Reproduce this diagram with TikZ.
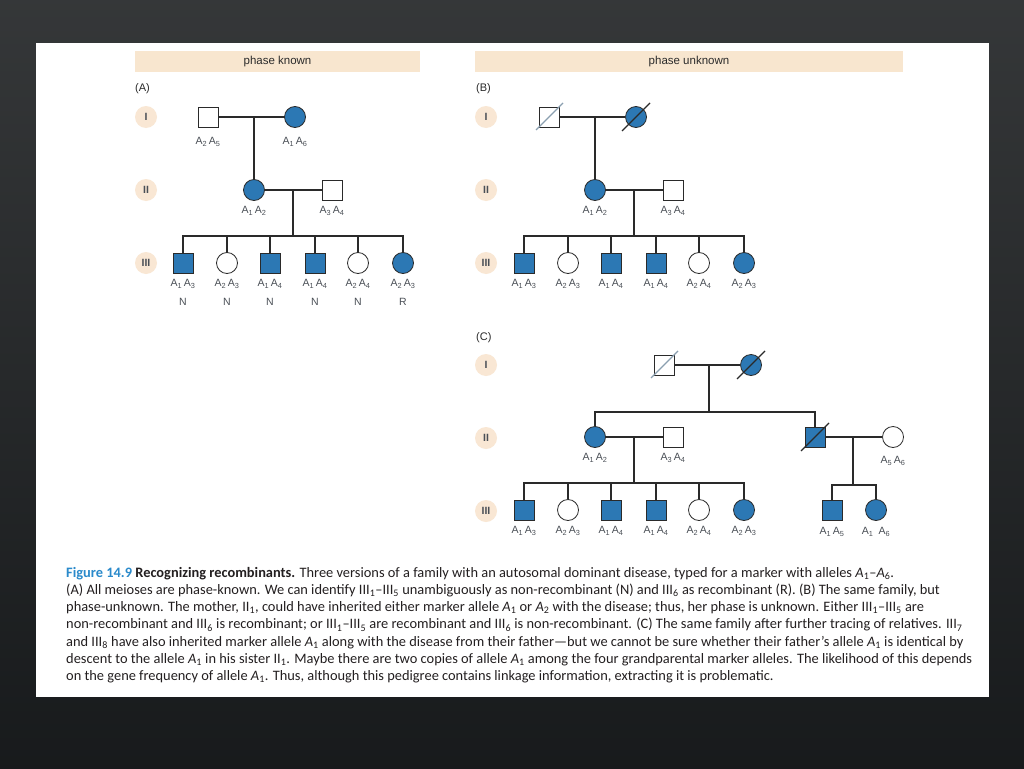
\documentclass[tikz,border=0pt]{standalone}
\usepackage{fontspec}
\setmainfont{Carlito}
\newfontfamily\pedfont{Liberation Sans}
\usetikzlibrary{positioning}
\usepackage{xcolor}
\definecolor{pgBack}{HTML}{1C1F21}
\definecolor{pgBar}{HTML}{F8E6CF}
\definecolor{pgBadge}{HTML}{F9E7D4}
\definecolor{pgBlue}{HTML}{2C78B4}
\definecolor{pgLine}{HTML}{2A2A2A}
\definecolor{pgText}{HTML}{4A4F56}
\definecolor{pgSlash}{HTML}{8A9FB0}
\definecolor{pgCapBlue}{HTML}{2A8ACB}
\definecolor{pgCapText}{HTML}{231F20}
\newcommand{\alls}[2]{A\textsubscript{#1}\,A\textsubscript{#2}}
\newcommand{\Ai}[1]{\textit{A}\textsubscript{#1}}
\newcommand{\gn}[2]{#1\textsubscript{#2}}
\tikzset{
    % pedigree symbols
    sym/.style={draw=pgLine,line width=0.8pt,inner sep=0pt},
    male/.style={sym,rectangle,minimum size=20pt,fill=white},
    female/.style={sym,circle,minimum size=21pt,fill=white},
    maleaff/.style={male,fill=pgBlue},
    femaleaff/.style={female,fill=pgBlue},
    % lines
    mating/.style={draw=pgLine,line width=2pt},
    descent/.style={draw=pgLine,line width=2.4pt},
    slashlight/.style={draw=pgSlash,line width=1.1pt},
    slashdark/.style={draw=pgLine,line width=1.1pt},
    % texts
    allele/.style={font=\pedfont\fontsize{10.5}{12}\selectfont,text=pgText,inner sep=0pt},
    genmark/.style={circle,fill=pgBadge,minimum size=22pt,inner sep=0pt,font=\pedfont\bfseries\fontsize{10.5}{12}\selectfont,text=pgText},
    phasebar/.style={fill=pgBar,minimum height=21pt,inner sep=0pt,font=\pedfont\fontsize{11.5}{12}\selectfont,text=pgLine},
    panelletter/.style={anchor=west,inner sep=0pt,font=\pedfont\fontsize{11}{12}\selectfont,text=pgLine}
}
\begin{document}
\begin{tikzpicture}[x=1pt,y=-1pt]
    \useasboundingbox (0,0) rectangle (1024,768);
    % Frame
    \shade[top color=pgBack!75!gray,bottom color=pgBack!85!black] (0,0) rectangle (1024,768);
    \fill[white] (36,43) rectangle (989,697);
    \node[phasebar,minimum width=285pt] (aphase) at (277.5,61.5) {phase known};
    \node[phasebar,minimum width=428pt] (bphase) at (689,61.5) {phase unknown};
    \node[panelletter] (alet) at (135,89) {(A)};
    \node[panelletter] (blet) at (476,89) {(B)};
    \node[panelletter] (clet) at (476,338) {(C)};
    \foreach \p/\x/\y in {a/146/117,b/486/117,c/486/365}
        \foreach \r/\dy in {I/0,II/73,III/146}
            \node[genmark] (\p gen\r) at (\x,\y+\dy) {\r};

    % (A) phase known
    \node[male] (aI1) at (208,117) {};
    \node[femaleaff] (aI2) at (295,117) {};
    \node[allele] (aI1l) at (208,142) {\alls{2}{5}};
    \node[allele] (aI2l) at (295,142) {\alls{1}{6}};
    \coordinate (amI) at (254,117);
    \node[femaleaff] (aII1) at (254,190) {};
    \node[male] (aII2) at (332,190) {};
    \node[allele] (aII1l) at (254,211) {\alls{1}{2}};
    \node[allele] (aII2l) at (332,211) {\alls{3}{4}};
    \coordinate (amII) at (293,190);
    \draw[mating] (aI1) -- (aI2);
    \draw[descent] (amI) -- (aII1.north);
    \draw[mating] (aII1) -- (aII2);

    % (B) phase unknown
    \node[male] (bI1) at (549,117) {};
    \node[femaleaff] (bI2) at (636,117) {};
    \coordinate (bmI) at (595,117);
    \node[femaleaff] (bII1) at (595,190) {};
    \node[male] (bII2) at (673,190) {};
    \node[allele] (bII1l) at (595,211) {\alls{1}{2}};
    \node[allele] (bII2l) at (673,211) {\alls{3}{4}};
    \coordinate (bmII) at (634,190);
    \draw[mating] (bI1) -- (bI2);
    \draw[descent] (bmI) -- (bII1.north);
    \draw[mating] (bII1) -- (bII2);

    % (C) further relatives
    \node[male] (cI1) at (664,365) {};
    \node[femaleaff] (cI2) at (751,365) {};
    \coordinate (cmI) at (709,365);
    \coordinate (csibII) at (709,412);
    \node[femaleaff] (cII1) at (595,437) {};
    \node[male] (cII2) at (673,437) {};
    \node[maleaff] (cII3) at (815,437) {};
    \node[female] (cII4) at (893,437) {};
    \node[allele] (cII1l) at (595,458) {\alls{1}{2}};
    \node[allele] (cII2l) at (673,458) {\alls{3}{4}};
    \node[allele] (cII4l) at (893,461) {\alls{5}{6}};
    \coordinate (cmII) at (634,437);
    \coordinate (cmII2) at (853,437);
    \coordinate (csib2) at (853,485);
    \node[maleaff] (cIII7) at (832,510) {};
    \node[femaleaff] (cIII8) at (876,510) {};
    \node[allele] (cIII7l) at (832,532) {\alls{1}{5}};
    \node[allele] (cIII8l) at (876,532) {A\textsubscript{1}\enspace A\textsubscript{6}};
    \draw[mating] (cI1) -- (cI2);
    \draw[descent] (cmI) -- (csibII);
    \draw[descent] (cII1.north) |- (csibII) -| (cII3.north);
    \draw[mating] (cII1) -- (cII2);
    \draw[mating] (cII3) -- (cII4);
    \draw[descent] (cmII2) -- (csib2);
    \draw[descent] (cIII7.north) |- (csib2) -| (cIII8.north);

    % Sibships of six (same in A, B, C)
    \foreach \p/\dx/\dy in {a/0/0,b/341/0,c/341/247}{
        \coordinate (\p sib) at (293+\dx,236+\dy);
        \foreach \x/\s/\al [count=\i] in {183/maleaff/{\alls{1}{3}},227/female/{\alls{2}{3}},270/maleaff/{\alls{1}{4}},315/maleaff/{\alls{1}{4}},358/female/{\alls{2}{4}},403/femaleaff/{\alls{2}{3}}}{
            \node[\s] (\p III\i) at (\x+\dx,263+\dy) {};
            \node[allele] (\p III\i l) at (\x+\dx,284+\dy) {\al};
            \draw[mating] (\p III\i.north) -- (\p III\i.north |- \p sib);
        }
        \draw[descent] (\p III1.north) |- (\p sib) -| (\p III6.north);
    }
    \draw[descent] (amII) -- (asib);
    \draw[descent] (bmII) -- (bsib);
    \draw[descent] (cmII) -- (csib);
    \foreach \t [count=\i] in {N,N,N,N,N,R}
        \node[allele] (aIII\i r) at (aIII\i l |- 0,302) {\t};

    % Deceased
    \draw[slashlight] ([shift={(-13,13)}]bI1.center) -- ([shift={(14,-14)}]bI1.center);
    \draw[slashdark] ([shift={(-14,14)}]bI2.center) -- ([shift={(14,-14)}]bI2.center);
    \draw[slashlight] ([shift={(-13,13)}]cI1.center) -- ([shift={(14,-14)}]cI1.center);
    \draw[slashdark] ([shift={(-14,14)}]cI2.center) -- ([shift={(14,-14)}]cI2.center);
    \draw[slashdark] ([shift={(-14,14)}]cII3.center) -- ([shift={(14,-14)}]cII3.center);

    % Caption
    \node[anchor=north west,inner sep=0pt,align=left,text=pgCapText,font=\fontsize{14.4}{17.2}\selectfont] (caption) at (66,567) {%
        {\bfseries\color{pgCapBlue}Figure 14.9} \textbf{Recognizing recombinants.} Three versions of a family with an autosomal dominant disease, typed for a marker with alleles \Ai{1}–\Ai{6}.\\
        (A) All meioses are phase-known. We can identify \gn{III}{1}–\gn{III}{5} unambiguously as non-recombinant (N) and \gn{III}{6} as recombinant (R). (B) The same family, but\\
        phase-unknown. The mother, \gn{II}{1}, could have inherited either marker allele \Ai{1} or \Ai{2} with the disease; thus, her phase is unknown. Either \gn{III}{1}–\gn{III}{5} are\\
        non-recombinant and \gn{III}{6} is recombinant; or \gn{III}{1}–\gn{III}{5} are recombinant and \gn{III}{6} is non-recombinant. (C) The same family after further tracing of relatives. \gn{III}{7}\\
        and \gn{III}{8} have also inherited marker allele \Ai{1} along with the disease from their father—but we cannot be sure whether their father’s allele \Ai{1} is identical by\\
        descent to the allele \Ai{1} in his sister \gn{II}{1}. Maybe there are two copies of allele \Ai{1} among the four grandparental marker alleles. The likelihood of this depends\\
        on the gene frequency of allele \Ai{1}. Thus, although this pedigree contains linkage information, extracting it is problematic.};
\end{tikzpicture}
\end{document}
